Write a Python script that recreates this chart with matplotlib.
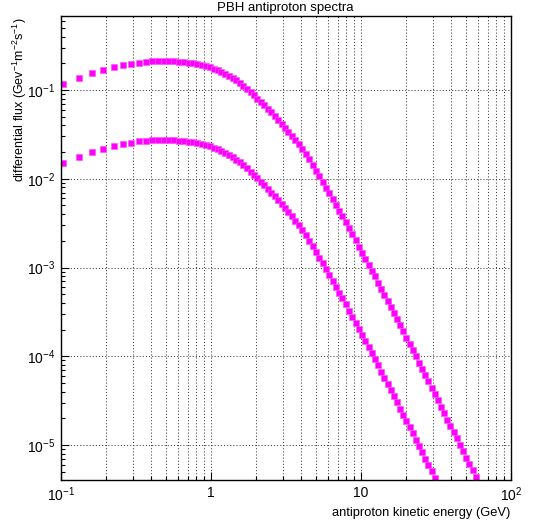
import matplotlib
matplotlib.use("Agg")
import matplotlib.pyplot as plt
from matplotlib.ticker import NullFormatter, LogLocator

matplotlib.rc("font", family="Liberation Sans", size=8)
matplotlib.rcParams["mathtext.fontset"] = "custom"
matplotlib.rcParams["mathtext.rm"] = "Liberation Sans"
matplotlib.rcParams["mathtext.it"] = "Liberation Sans:italic"

# antiproton kinetic energy (GeV)
energy = [0.103, 0.131, 0.160, 0.192, 0.224, 0.258, 0.293, 0.329, 0.366, 0.404,
          0.443, 0.483, 0.525, 0.568, 0.612, 0.659, 0.708, 0.759, 0.811, 0.865,
          0.922, 0.981, 1.042, 1.107, 1.173, 1.243, 1.317, 1.393, 1.474, 1.558,
          1.646, 1.738, 1.834, 1.934, 2.040, 2.150, 2.268, 2.391, 2.521, 2.658,
          2.802, 2.955, 3.115, 3.285, 3.463, 3.652, 3.850, 4.060, 4.281, 4.513,
          4.759, 5.018, 5.278, 5.553, 5.841, 6.145, 6.464, 6.800, 7.153, 7.525,
          7.916, 8.327, 8.760, 9.215, 9.694, 10.20, 10.70, 11.23, 11.79, 12.38,
          12.99, 13.63, 14.31, 15.02, 15.76, 16.54, 17.36, 18.22, 19.13, 20.08,
          21.07, 22.11, 23.21, 24.36, 25.57, 26.83, 28.16, 29.56, 31.03, 32.55,
          34.17, 35.86, 37.64, 39.50, 41.46, 43.51, 45.67, 47.93, 50.30, 52.80,
          55.41, 58.16, 61.04]

# differential flux (GeV^-1 m^-2 s^-1), upper spectrum
flux_high = [0.116, 0.137, 0.154, 0.167, 0.180, 0.191, 0.198, 0.204, 0.208, 0.211,
             0.212, 0.213, 0.212, 0.211, 0.209, 0.207, 0.203, 0.200, 0.195, 0.190,
             0.185, 0.180, 0.173, 0.167, 0.160, 0.153, 0.145, 0.138, 0.129, 0.120,
             0.111, 0.103, 0.0951, 0.0875, 0.0801, 0.0733, 0.0670, 0.0612, 0.0559, 0.0508,
             0.0462, 0.0418, 0.0378, 0.0340, 0.0306, 0.0274, 0.0244, 0.0216, 0.0189, 0.0165,
             0.0142, 0.01227, 0.01061, 0.00918, 0.00794, 0.00687, 0.00594, 0.00510, 0.00438, 0.00376,
             0.00323, 0.00276, 0.00236, 0.00202, 0.001725, 0.001472, 0.001262, 0.001080, 0.000925, 0.000793,
             0.000678, 0.000579, 0.000495, 0.000423, 0.000361, 0.000308, 0.000263, 0.000224, 0.000191, 0.0001628,
             0.0001385, 0.0001178, 0.0001001, 8.51e-5, 7.24e-5, 6.14e-5, 5.21e-5, 4.42e-5, 3.75e-5, 3.18e-5,
             2.70e-5, 2.29e-5, 1.94e-5, 1.65e-5, 1.40e-5, 1.186e-5, 1.006e-5, 8.54e-6, 7.24e-6, 6.14e-6,
             5.21e-6, 4.42e-6, 3.75e-6]

# lower spectrum (same energies, ends near 31 GeV)
flux_low = [0.0150, 0.01762, 0.01982, 0.02158, 0.02312, 0.02455, 0.02553, 0.02630, 0.02679, 0.02716,
            0.02729, 0.02742, 0.02735, 0.02716, 0.02698, 0.02661, 0.02615, 0.02570, 0.02518, 0.02443,
            0.02377, 0.02312, 0.02228, 0.02140, 0.02045, 0.01953, 0.01854, 0.01758, 0.01642, 0.01527,
            0.01412, 0.01306, 0.01201, 0.01103, 0.01009, 0.00920, 0.00840, 0.00766, 0.00698, 0.00634,
            0.00575, 0.00519, 0.00468, 0.00421, 0.00378, 0.00338, 0.00300, 0.00265, 0.002314, 0.002015,
            0.001734, 0.001493, 0.001288, 0.001111, 0.000959, 0.000828, 0.000713, 0.000611, 0.000523, 0.000448,
            0.000384, 0.000328, 0.000279, 0.000238, 0.000203, 0.0001729, 0.0001479, 0.0001264, 0.0001081, 9.24e-5,
            7.89e-5, 6.73e-5, 5.75e-5, 4.90e-5, 4.18e-5, 3.56e-5, 3.03e-5, 2.58e-5, 2.20e-5, 1.87e-5,
            1.59e-5, 1.352e-5, 1.150e-5, 9.77e-6, 8.31e-6, 7.05e-6, 5.98e-6, 5.07e-6, 4.30e-6, 3.65e-6]

xticks = [0.1, 1, 10, 100]
xticklabels = ["$10^{-1}$", "1", "10", "$10^{2}$"]
yticks = [1e-5, 1e-4, 1e-3, 1e-2, 1e-1]
yticklabels = ["$10^{-5}$", "$10^{-4}$", "$10^{-3}$", "$10^{-2}$", "$10^{-1}$"]

fig = plt.figure(figsize=(5.4, 5.23), dpi=100)
ax = fig.add_axes([61/540, 43/523, 450/540, 464/523])

ax.plot(energy, flux_high, "s", color="#ff00ff", ms=4.6, mec="#ff55ff", mew=0.5)
ax.plot(energy[:len(flux_low)], flux_low, "s", color="#ff00ff", ms=4.6, mec="#ff55ff", mew=0.5)

ax.set_xscale("log")
ax.set_yscale("log")
ax.set_xlim(0.1, 100)
ax.set_ylim(4.04e-6, 0.682)

ax.set_xticks(xticks)
ax.set_xticklabels(xticklabels)
ax.set_yticks(yticks)
ax.set_yticklabels(yticklabels)
ax.xaxis.set_minor_locator(LogLocator(base=10, subs=range(2, 10)))
ax.yaxis.set_minor_locator(LogLocator(base=10, subs=range(2, 10)))
ax.xaxis.set_minor_formatter(NullFormatter())
ax.yaxis.set_minor_formatter(NullFormatter())

ax.tick_params(which="both", direction="in", top=False, right=False, labelsize=10, width=0.8)
ax.tick_params(which="major", length=6, pad=4)
ax.tick_params(which="minor", length=3)

ax.grid(True, which="major", axis="both", color="0.25", linestyle=(0, (1, 2)), linewidth=0.75)
ax.grid(True, which="minor", axis="x", color="0.25", linestyle=(0, (1, 2)), linewidth=0.75)
ax.set_axisbelow(True)
for s in ax.spines.values():
    s.set_linewidth(1.0)

fig.text(285/540, 1 - 8/523, "PBH antiproton spectra", ha="center", va="center", fontsize=9.5)
fig.text(510/540, 1 - 513/523, "antiproton kinetic energy (GeV)", ha="right", va="center", fontsize=9.3)
fig.text(20/540, 1 - 17/523, "differential flux (Gev$^{-1}$m$^{-2}$s$^{-1}$)",
         rotation=90, ha="center", va="top", fontsize=9)

fig.savefig("out.png", dpi=100)
